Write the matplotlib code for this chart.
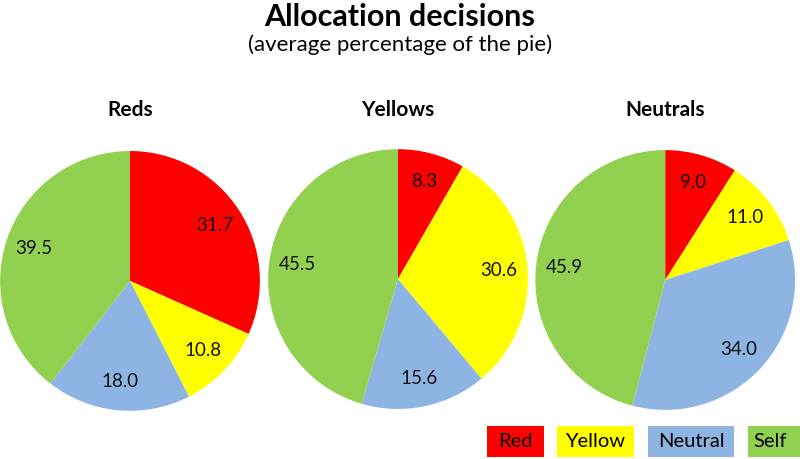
import matplotlib
matplotlib.use("Agg")
import matplotlib.pyplot as plt
from matplotlib.patches import Rectangle

plt.rcParams['font.family'] = ['Lato', 'DejaVu Sans']

groups = ["Reds", "Yellows", "Neutrals"]
categories = ["Red", "Yellow", "Neutral", "Self"]
reds = [31.7, 10.8, 18.0, 39.5]
yellows = [8.3, 30.6, 15.6, 45.5]
neutrals = [9.0, 11.0, 34.0, 45.9]
colors = ["#FF0000", "#FFFF00", "#8EB4E3", "#92D050"]

fig = plt.figure(figsize=(8, 4.59), dpi=100)

fig.text(0.5, 0.963, "Allocation decisions", ha='center', va='center',
         fontsize=22, fontweight='bold')
fig.text(0.5, 0.903, "(average percentage of the pie)", ha='center', va='center',
         fontsize=16)

# pie axes: [left, bottom, width, height] in figure fraction
boxes = [[0.0, 0.105, 0.325, 0.566],
         [0.335, 0.109, 0.325, 0.566],
         [0.669, 0.107, 0.325, 0.566]]

for name, vals, box in zip(groups, [reds, yellows, neutrals], boxes):
    ax = fig.add_axes(box)
    it = iter(vals)
    ax.pie(vals, colors=colors, startangle=90, counterclock=False,
           autopct=lambda p, it=it: "{0:.1f}".format(next(it)),
           pctdistance=0.78, textprops={'fontsize': 13.5, 'color': '#111111'})
    ax.set_xlim(-1, 1)
    ax.set_ylim(-1, 1)
    ax.set_aspect('equal')
    fig.text(box[0] + box[2] / 2, 0.76, name, ha='center', va='center',
             fontsize=15, fontweight='bold')

# legend boxes along the bottom right
leg_x = [487, 557, 648, 748]
leg_w = [57, 77, 86, 60]
for cat, col, x, w in zip(categories, colors, leg_x, leg_w):
    fig.patches.append(Rectangle((x / 800, 2 / 459), w / 800, 31 / 459,
                                 transform=fig.transFigure, facecolor=col,
                                 edgecolor='none'))
    tx = x + (w if cat != "Self" else 44) / 2
    fig.text(tx / 800, 17.5 / 459, cat, ha='center', va='center', fontsize=14.5)

plt.savefig("out.png", dpi=100)
